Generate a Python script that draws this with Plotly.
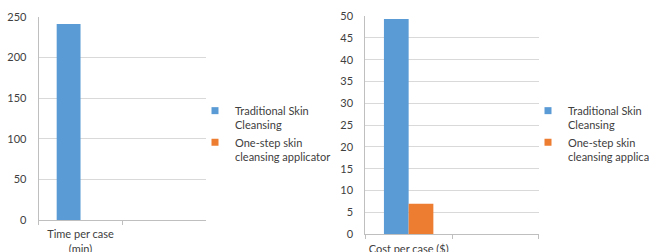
import plotly.graph_objects as go

categories_time = ["Time per case<br>(min)", " "]
categories_cost = ["Cost per case ($)", "  "]
series_names = ["Traditional Skin<br>Cleansing", "One-step skin<br>cleansing applicator"]
time_traditional = [241, None]
time_onestep = [0, None]
cost_traditional = [49.3, None]
cost_onestep = [7, None]
colors = ["#5b9bd5", "#ed7d31"]
y_ticks_time = [0, 50, 100, 150, 200, 250]
y_ticks_cost = list(range(0, 55, 5))

W, H = 649, 252
FONT = dict(family="Lato, Liberation Sans, Arial, sans-serif", size=11, color="#404040")

fig = go.Figure()
for vals, col in zip([time_traditional, time_onestep], colors):
    fig.add_bar(x=categories_time, y=vals, marker_color=col, marker_line_width=0,
                xaxis="x", yaxis="y", showlegend=False)
for vals, col in zip([cost_traditional, cost_onestep], colors):
    fig.add_bar(x=categories_cost, y=vals, marker_color=col, marker_line_width=0,
                xaxis="x2", yaxis="y2", showlegend=False)
# legend entries
for lg, xa, ya in [("legend", "x", "y"), ("legend2", "x2", "y2")]:
    for name, col in zip(series_names, colors):
        fig.add_scatter(x=[None], y=[None], mode="markers", name=name,
                        marker=dict(symbol="square", size=7, color=col),
                        xaxis=xa, yaxis=ya, legend=lg)

grid = "#d9d9d9"
axl = "#bfbfbf"
common_x = dict(type="category", showline=True, linecolor=axl, linewidth=1,
                ticks="outside", tickson="boundaries", ticklen=4, tickcolor=axl,
                showgrid=False, tickfont=FONT, range=[-0.5, 1.5], fixedrange=True,
                tickangle=0, automargin=False, ticklabelstandoff=4)
common_y = dict(showline=True, linecolor=axl, linewidth=1, gridcolor=grid, gridwidth=1,
                tickfont=FONT, zeroline=False, ticks="", ticklabelstandoff=9,
                automargin=False)

fig.update_layout(
    width=W, height=H, margin=dict(l=0, r=0, t=0, b=0, autoexpand=False),
    paper_bgcolor="white", plot_bgcolor="white",
    barmode="group", bargap=0.43, bargroupgap=0,
    font=FONT,
    xaxis=dict(domain=[38.7 / W, 206 / W], anchor="y",
               categoryarray=categories_time, categoryorder="array", **common_x),
    yaxis=dict(domain=[1 - 220 / H, 1 - 16.7 / H], anchor="x", range=[0, 250],
               tickvals=y_ticks_time, **common_y),
    xaxis2=dict(domain=[365.3 / W, 538.7 / W], anchor="y2",
                categoryarray=categories_cost, categoryorder="array", **common_x),
    yaxis2=dict(domain=[1 - 234.3 / H, 1 - 16 / H], anchor="x2", range=[0, 50],
                tickvals=y_ticks_cost, **common_y),
    legend=dict(x=195 / W, y=1 - 97 / H, xanchor="left", yanchor="top",
                font=FONT, valign="top", bgcolor="rgba(0,0,0,0)", tracegroupgap=0),
    legend2=dict(x=528 / W, y=1 - 97 / H, xanchor="left", yanchor="top",
                 font=FONT, valign="top", bgcolor="rgba(0,0,0,0)", tracegroupgap=0),
)

fig.write_html("out.html", config=dict(staticPlot=True, displayModeBar=False),
               post_script="document.body.style.margin='0';")
